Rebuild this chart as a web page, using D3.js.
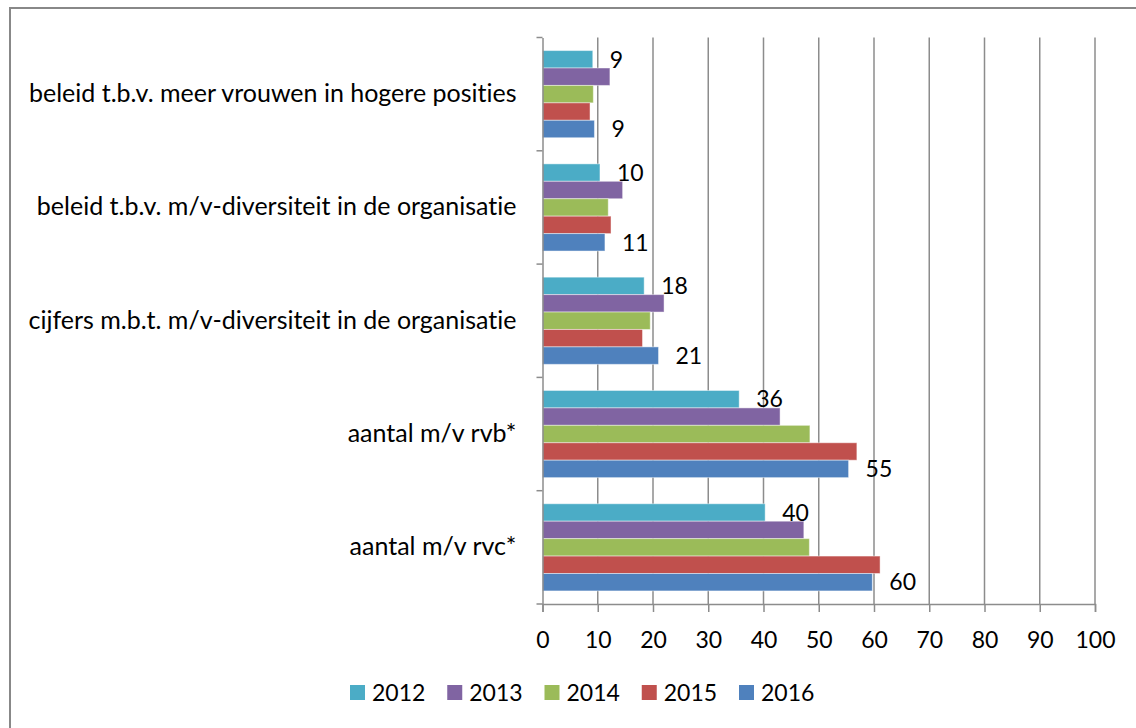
<!DOCTYPE html>
<html>
<head>
<meta charset="utf-8">
<script src="https://cdn.jsdelivr.net/npm/d3@7"></script>
<style>
  html, body { margin: 0; padding: 0; background: #fff; }
  svg { display: block; font-family: Lato, "Open Sans", sans-serif; }
  svg text { font-variant-ligatures: none; font-feature-settings: "liga" 0, "dlig" 0; }
</style>
</head>
<body>
<svg width="1136" height="728"></svg>
<script>
// categories, top to bottom
const categories = [
  "beleid t.b.v. meer vrouwen in hogere posities",
  "beleid t.b.v. m/v-diversiteit in de organisatie",
  "cijfers m.b.t. m/v-diversiteit in de organisatie",
  "aantal m/v rvb*",
  "aantal m/v rvc*"
];
const years = ["2012", "2013", "2014", "2015", "2016"];
const colors = ["#4bacc6", "#8064a2", "#9bbb59", "#c0504d", "#4f81bd"];

// values per year, in category order
const v2012 = [9.1, 10.4, 18.4, 35.6, 40.3];
const v2013 = [12.2, 14.5, 22.0, 43.0, 47.3];
const v2014 = [9.2, 11.9, 19.5, 48.4, 48.3];
const v2015 = [8.6, 12.4, 18.1, 56.9, 61.1];
const v2016 = [9.4, 11.3, 21.0, 55.4, 59.7];
const series = [v2012, v2013, v2014, v2015, v2016];

// only 2012 and 2016 carry a data label
const labelled = ["2012", "2016"];
const xTicks = [0, 10, 20, 30, 40, 50, 60, 70, 80, 90, 100];

const rows = [];
years.forEach((y, i) => {
  categories.forEach((c, j) => rows.push({year: y, cat: c, value: series[i][j], color: colors[i]}));
});

const svg = d3.select("svg");
const gridColor = "#8c8c8c";
const fontSize = 23;
const catFontSize = 25;

// outer frame
svg.append("path")
  .attr("d", "M10,728 V8 H1136")
  .attr("fill", "none")
  .attr("stroke", "#888")
  .attr("stroke-width", 2);

const x = d3.scaleLinear().domain([0, 100]).range([542.5, 1095]);
const y = d3.scaleBand().domain(categories).range([37.5, 604]);
const yInner = d3.scaleBand().domain(years).range([0, y.bandwidth()]).paddingOuter(0.75);

// vertical gridlines
svg.append("g")
  .selectAll("line")
  .data(xTicks.slice(1))
  .enter()
  .append("line")
  .attr("x1", d => x(d)).attr("x2", d => x(d))
  .attr("y1", 37.5).attr("y2", 604)
  .attr("stroke", gridColor)
  .attr("stroke-width", 1.5);

// bars
svg.append("g")
  .selectAll("rect")
  .data(rows)
  .enter()
  .append("rect")
  .attr("x", x(0))
  .attr("y", d => y(d.cat) + yInner(d.year))
  .attr("width", d => x(d.value) - x(0))
  .attr("height", yInner.bandwidth())
  .attr("fill", d => d.color)
  .attr("stroke", "#fff")
  .attr("stroke-opacity", 0.45)
  .attr("stroke-width", 1);

// data labels
svg.append("g")
  .selectAll("text")
  .data(rows.filter(d => labelled.includes(d.year)))
  .enter()
  .append("text")
  .attr("x", d => x(d.value) + 17)
  .attr("y", d => y(d.cat) + yInner(d.year) + yInner.bandwidth() / 2)
  .attr("dy", "0.36em")
  .attr("font-size", fontSize)
  .attr("fill", "#000")
  .text(d => Math.round(d.value));

// x axis
const xAxis = svg.append("g")
  .attr("transform", "translate(0,604)")
  .call(d3.axisBottom(x).tickValues(xTicks).tickSize(8).tickPadding(20));
xAxis.select(".domain").attr("stroke", gridColor).attr("stroke-width", 1.5);
xAxis.selectAll(".tick line").attr("stroke", gridColor).attr("stroke-width", 1.5);
xAxis.selectAll("text")
  .attr("font-size", fontSize)
  .attr("font-family", "Lato, sans-serif")
  .attr("fill", "#000");

// y axis
const yAxis = svg.append("g")
  .attr("transform", `translate(${x(0)},0)`)
  .call(d3.axisLeft(y).tickSize(0).tickPadding(26));
yAxis.select(".domain").attr("stroke", gridColor).attr("stroke-width", 1.5);
yAxis.selectAll("text")
  .attr("font-size", catFontSize)
  .attr("font-family", "Lato, sans-serif")
  .attr("fill", "#000")
  .attr("dy", "0.32em");
// category separator ticks
svg.append("g")
  .selectAll("line")
  .data(categories.concat([null]))
  .enter()
  .append("line")
  .attr("x1", x(0) - 6).attr("x2", x(0))
  .attr("y1", d => d ? y(d) : 604).attr("y2", d => d ? y(d) : 604)
  .attr("stroke", gridColor)
  .attr("stroke-width", 1.5);

// legend
const legend = svg.append("g")
  .selectAll("g")
  .data(years)
  .enter()
  .append("g")
  .attr("transform", (d, i) => `translate(${350 + i * 97.25},685)`);
legend.append("rect")
  .attr("width", 15).attr("height", 15)
  .attr("fill", (d, i) => colors[i]);
legend.append("text")
  .attr("x", 22).attr("y", 16)
  .attr("font-size", fontSize)
  .attr("fill", "#000")
  .text(d => d);
</script>
</body>
</html>
